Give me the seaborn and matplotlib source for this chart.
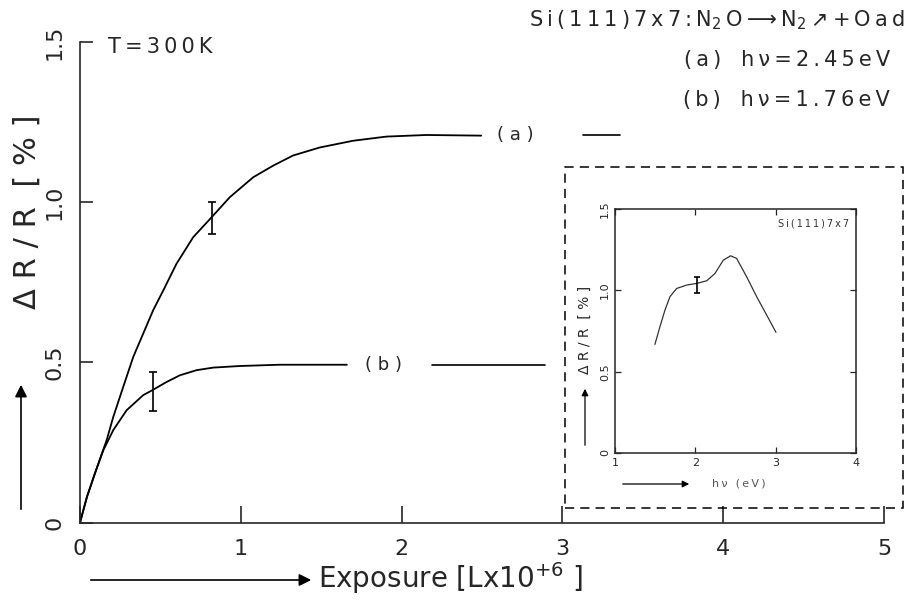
import numpy as np
import pandas as pd
import matplotlib
matplotlib.use('Agg')
import matplotlib.pyplot as plt
from matplotlib.patches import FancyArrowPatch, Rectangle
import seaborn as sns

# krzywe glowne: ekspozycja [Lx10^6] i dR/R [%]
exp_a = [0.0, 0.043, 0.093, 0.166, 0.207, 0.269, 0.331, 0.393, 0.455, 0.518, 0.60,
         0.704, 0.818, 0.932, 1.077, 1.20, 1.325, 1.491, 1.698, 1.905, 2.153, 2.495]
dr_a = [0.0, 0.08, 0.154, 0.258, 0.33, 0.424, 0.517, 0.59, 0.663, 0.725, 0.808,
        0.891, 0.953, 1.016, 1.078, 1.114, 1.146, 1.171, 1.192, 1.205, 1.21, 1.208]
exp_b = [0.0, 0.043, 0.093, 0.145, 0.207, 0.29, 0.393, 0.455, 0.538, 0.621, 0.725,
         0.828, 0.994, 1.242, 1.66]
dr_b = [0.0, 0.08, 0.154, 0.226, 0.289, 0.351, 0.398, 0.415, 0.439, 0.46, 0.476,
        0.484, 0.489, 0.493, 0.493]

# slupki bledow na krzywych
err_x = [0.818, 0.455]
err_y = [0.951, 0.409]
err_val = [0.051, 0.061]

# odcinki przy podpisach (a) i (b)
key_a_x = [3.13, 3.36]
key_a_y = [1.21, 1.21]
key_b_x = [2.19, 2.89]
key_b_y = [0.493, 0.493]

# wstawka: widmo dR/R od hv [eV]
hv = [1.498, 1.56, 1.623, 1.685, 1.768, 1.893, 2.017, 2.142, 2.245, 2.349, 2.44,
      2.515, 2.64, 2.765, 2.89, 3.005]
dr_hv = [0.668, 0.776, 0.879, 0.961, 1.012, 1.033, 1.043, 1.059, 1.104, 1.186, 1.213,
         1.197, 1.084, 0.961, 0.848, 0.742]
ins_err_x = [2.025]
ins_err_y = [1.032]
ins_err = [0.048]

x_ticks = [0, 1, 2, 3, 4, 5]
y_ticks = [0, 0.5, 1.0, 1.5]
y_ticklabels = ['0', '0.5', '1.0', '1.5']
ins_x_ticks = [1, 2, 3, 4]

sns.set_style('ticks')
plt.rcParams['font.family'] = ['DejaVu Sans']

TS = '\u2009'  # waska spacja - rozstrzelony napis jak z plotera

df_a = pd.DataFrame({'x': exp_a, 'y': dr_a})
df_b = pd.DataFrame({'x': exp_b, 'y': dr_b})
df_i = pd.DataFrame({'x': hv, 'y': dr_hv})

fig = plt.figure(figsize=(9.11, 6.01), dpi=100)
ax = fig.add_axes([0.0878, 0.1303, 0.8826, 0.7997])

# krzywe
sns.lineplot(data=df_a, x='x', y='y', ax=ax, color='black', lw=1.3)
sns.lineplot(data=df_b, x='x', y='y', ax=ax, color='black', lw=1.3)
ax.errorbar(err_x, err_y, yerr=err_val, fmt='none', ecolor='black',
            elinewidth=1.2, capsize=3, capthick=1.2)
ax.plot(key_a_x, key_a_y, color='black', lw=1.2)
ax.plot(key_b_x, key_b_y, color='black', lw=1.2)
ax.text(2.71, 1.21, '( a )', fontsize=13, ha='center', va='center')
ax.text(1.89, 0.493, '( b )', fontsize=13, ha='center', va='center')

ax.set_xlim(0, 5)
ax.set_ylim(0, 1.5)
ax.set_xticks(x_ticks)
ax.set_yticks(y_ticks)
ax.set_yticklabels(y_ticklabels, rotation=90, va='center')
ax.tick_params(axis='x', direction='in', length=12, width=1.2, labelsize=16, pad=12)
ax.tick_params(axis='y', direction='in', length=9, width=1.2, labelsize=16, pad=11)
sns.despine(ax=ax)
ax.spines['left'].set_linewidth(1.2)
ax.spines['bottom'].set_linewidth(1.2)
ax.set_xlabel('')
ax.set_ylabel('')

fig.text(108 / 911, 1 - 47 / 601, TS.join('T=300K'), fontsize=15, ha='left', va='center')

# opisy osi ze strzalkami
fig.text(318 / 911, 1 - 578 / 601, 'Exposure [Lx10$^{+6}$ ]', fontsize=20,
         ha='left', va='center')
fig.add_artist(FancyArrowPatch(
    (88 / 911, 1 - 580 / 601), (314 / 911, 1 - 580 / 601),
    transform=fig.transFigure, arrowstyle='-|>', mutation_scale=18, color='black', lw=1.2))
fig.text(27 / 911, 1 - 212 / 601, 'Δ R / R  [ % ]', fontsize=22, rotation=90,
         ha='center', va='center')
fig.add_artist(FancyArrowPatch(
    (21 / 911, 1 - 512 / 601), (21 / 911, 1 - 382 / 601),
    transform=fig.transFigure, arrowstyle='-|>', mutation_scale=18, color='black', lw=1.2))

# tekst w prawym gornym rogu
title_tokens = ['S', 'i', '(', '1', '1', '1', ')', '7', 'x', '7', ':', 'N$_2$', 'O',
                '⟶', 'N$_2$', '↗', '+', 'O', 'a', 'd']
fig.text(905 / 911, 1 - 20 / 601, TS.join(title_tokens), fontsize=15,
         ha='right', va='center')
fig.text(890 / 911, 1 - 60 / 601, TS.join('(a)') + '   ' + TS.join('hν=2.45eV'),
         fontsize=15, ha='right', va='center')
fig.text(890 / 911, 1 - 100 / 601, TS.join('(b)') + '   ' + TS.join('hν=1.76eV'),
         fontsize=15, ha='right', va='center')

# ramka przerywana wokol wstawki
fig.add_artist(Rectangle(
    (565 / 911, 1 - 508 / 601), (903 - 565) / 911, (508 - 167) / 601,
    transform=fig.transFigure, fill=False, ls=(0, (6, 4)), lw=1.1, color='black'))

# wstawka
ins = fig.add_axes([0.675, 0.2463, 0.2645, 0.4057])
sns.lineplot(data=df_i, x='x', y='y', ax=ins, color='#333333', lw=0.9)
ins.errorbar(ins_err_x, ins_err_y, yerr=ins_err, fmt='none', ecolor='black',
             elinewidth=1.2, capsize=2.5, capthick=1.2)
ins.set_xlim(1, 4)
ins.set_ylim(0, 1.5)
ins.set_xticks(ins_x_ticks)
ins.set_yticks(y_ticks)
ins.set_yticklabels(y_ticklabels, rotation=90, va='center')
ins.tick_params(direction='in', length=4, width=0.9, labelsize=8, top=True, right=True)
for s in ins.spines.values():
    s.set_linewidth(1.1)
ins.set_xlabel('')
ins.set_ylabel('')
fig.text(585 / 911, 1 - 330 / 601, 'Δ R / R  [ % ]', fontsize=10, rotation=90,
         ha='center', va='center')
ins.text(0.97, 0.94, TS.join('Si(111)7x7'), transform=ins.transAxes, fontsize=7,
         ha='right', va='center', color='#333333')
fig.text(712 / 911, 1 - 484 / 601, TS.join('hν (eV)'), fontsize=8, ha='left',
         va='center', color='#555555')
fig.add_artist(FancyArrowPatch(
    (620 / 911, 1 - 484 / 601), (692 / 911, 1 - 484 / 601),
    transform=fig.transFigure, arrowstyle='-|>', mutation_scale=10, color='black', lw=0.9))
fig.add_artist(FancyArrowPatch(
    (585 / 911, 1 - 448 / 601), (585 / 911, 1 - 386 / 601),
    transform=fig.transFigure, arrowstyle='-|>', mutation_scale=10, color='black', lw=0.9))

plt.savefig('out.png', dpi=100)
